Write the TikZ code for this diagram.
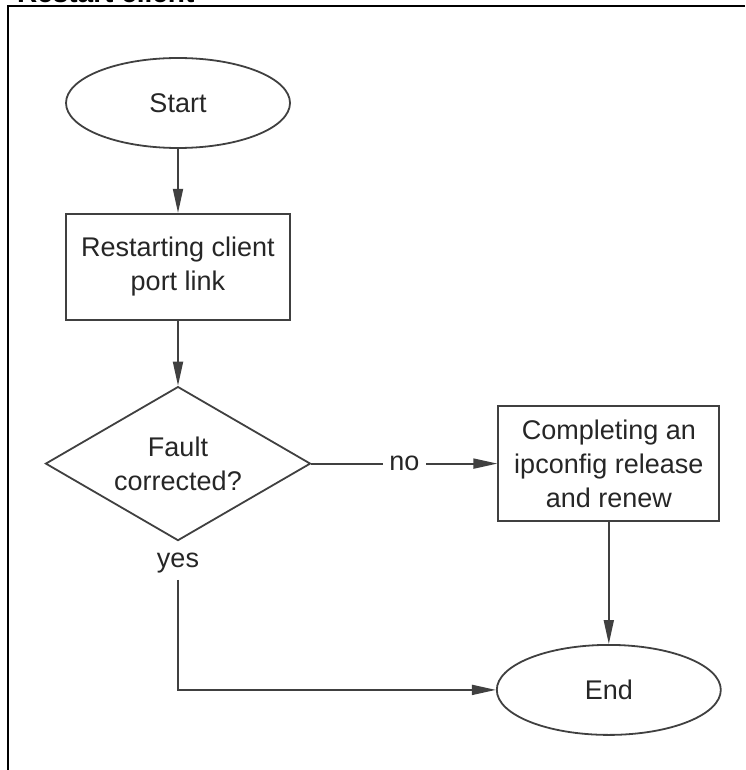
\documentclass[tikz,border=0pt]{standalone}
\usepackage{fontspec}
\setmainfont{Liberation Sans}
\usetikzlibrary{positioning, arrows.meta, shapes.geometric}

\begin{document}
\begin{tikzpicture}[
    x=0.5pt, y=-0.5pt,
    node distance=32pt and 93pt,
    every node/.style={font=\fontsize{13.5}{17}\selectfont, text=black!85},
    term/.style={draw=black!75, ellipse, line width=0.9pt, minimum width=112pt, minimum height=45pt},
    task/.style={draw=black!75, rectangle, line width=0.9pt, align=center, minimum width=112pt, minimum height=53pt},
    check/.style={draw=black!75, diamond, aspect=1.72, line width=0.9pt, align=center, minimum width=132.5pt, minimum height=77pt, inner sep=0pt},
    arrow/.style={-{Triangle[length=12pt, width=5pt]}, line width=0.9pt, black!75}
]
    \useasboundingbox (0,0) rectangle (745,770);
    \clip (0,0) rectangle (745,770);

    % title and frame
    \node[anchor=base west, font=\bfseries\fontsize{14}{17}\selectfont, text=black] (title) at (10,3) {Restart client};
    \draw[line width=1.4pt, black] (8,770) -- (8,6) -- (745,6);

    \node[term] (start) at (178,103) {Start};
    \node[task, below=of start] (restart) {Restarting client\\port link};
    \node[check, below=32.5pt of restart] (fault) {Fault\\corrected?};
    \node[task, right=of fault, minimum width=110.5pt, minimum height=57.5pt] (ipconfig) {Completing an\\ipconfig release\\and renew};
    \node[term, below=61pt of ipconfig] (end) {End};
    \node[below=2pt of fault] (yes) {yes};

    \draw[arrow] (start) -- (restart);
    \draw[arrow] (restart) -- (fault);
    \draw[arrow] (fault) -- node[fill=white] {no} (ipconfig);
    \draw[arrow] (ipconfig) -- (end);
    \draw[arrow] (yes) |- (end);

\end{tikzpicture}
\end{document}
